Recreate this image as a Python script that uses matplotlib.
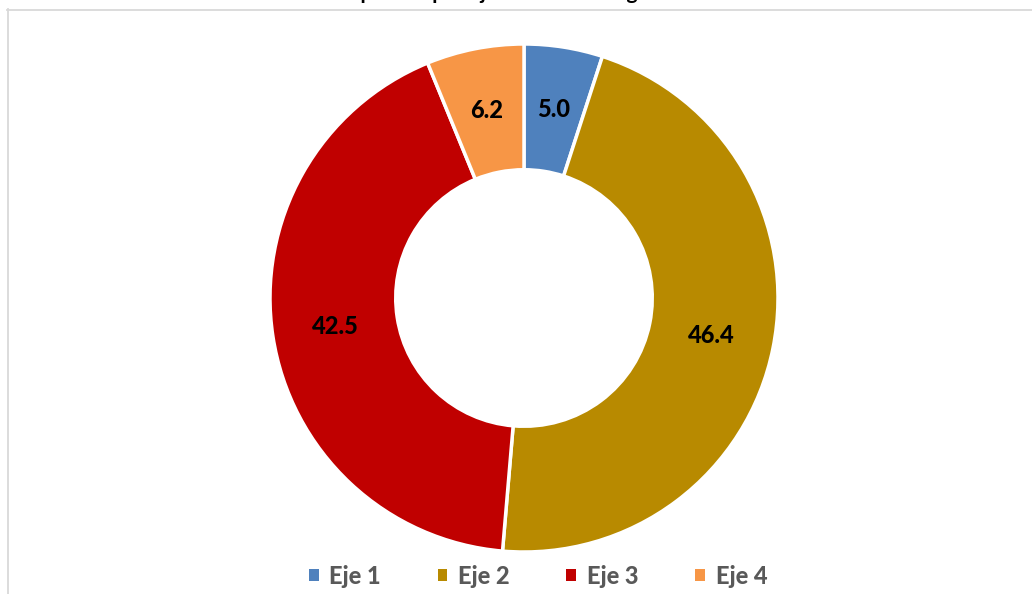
import numpy as np
import matplotlib.pyplot as plt
from matplotlib.lines import Line2D
from matplotlib.patches import Patch

# shares by axis, % of total
labels = ['Eje 1', 'Eje 2', 'Eje 3', 'Eje 4']
values = [5.0, 46.4, 42.5, 6.2]
colors = ['#4F81BD', '#B88A00', '#C00000', '#F79646']
title = 'Inversión pública por ejes de la Estrategia como % del total'

plt.rcParams['font.family'] = ['Lato', 'DejaVu Sans']

W, H = 1032, 594
fig = plt.figure(figsize=(W / 100, H / 100), dpi=100)
ax = fig.add_axes([0, 0, 1, 1])

# donut: one data unit = one pixel
cx, cy, r = 524, H - 298, 254
hole = 0.495
wedges, _ = ax.pie(values, colors=colors, startangle=90, counterclock=False,
                   center=(cx, cy), radius=r,
                   wedgeprops=dict(width=r * hole, edgecolor='white', linewidth=2.5))
ax.set_xlim(0, W)
ax.set_ylim(0, H)
ax.set_aspect('auto')
ax.axis('off')

# value labels at the middle of each ring segment
mid_r = r * (1 - hole / 2)
for w, v in zip(wedges, values):
    ang = np.deg2rad((w.theta1 + w.theta2) / 2)
    ax.text(cx + mid_r * np.cos(ang), cy + mid_r * np.sin(ang), f'{v:.1f}',
            ha='center', va='center', fontsize=17, fontweight='black', color='black')

# chart area border (clipped at right and bottom)
fig.add_artist(Line2D([7.5 / W, 7.5 / W], [0, 1 - 9 / H], transform=fig.transFigure,
                      color='#d9d9d9', lw=1.3))
fig.add_artist(Line2D([7 / W, 1], [1 - 9.5 / H, 1 - 9.5 / H], transform=fig.transFigure,
                      color='#d9d9d9', lw=1.3))

# title sits almost entirely above the top edge
fig.text(542 / W, 1 + 1 / H, title, ha='center', va='baseline',
         fontsize=15, fontweight='bold', color='black')

handles = [Patch(facecolor=c, edgecolor='none') for c in colors]
leg = fig.legend(handles, labels, loc='center', bbox_to_anchor=(538 / W, 1 - 576 / H),
                 ncol=4, frameon=False, handlelength=0.42, handleheight=0.42,
                 handletextpad=0.45, columnspacing=2.4,
                 prop=dict(size=17, weight='black'))
for t in leg.get_texts():
    t.set_color('#595959')

fig.savefig('out.png', dpi=100)
